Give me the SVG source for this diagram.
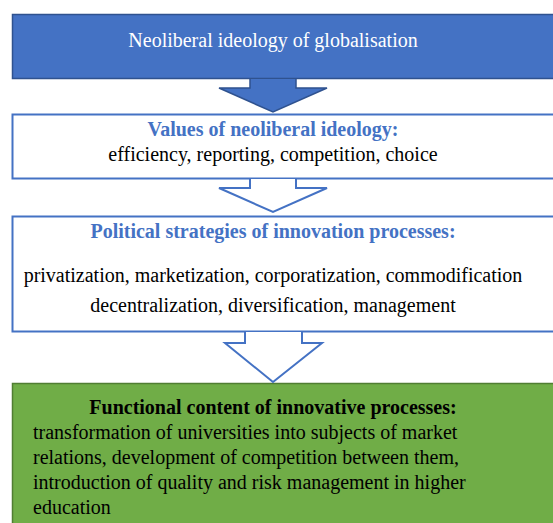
<svg xmlns="http://www.w3.org/2000/svg" width="553" height="523" viewBox="0 0 553 523">
<style>
text{font-family:"Liberation Serif","Times New Roman",serif;font-size:20px;fill:#000}
.c{text-anchor:middle}
.h{font-weight:bold;fill:#4472C4}
.w{fill:#fff}
.b{font-weight:bold}
.outline{fill:#fff;stroke:#4472C4;stroke-width:2}
</style>
<rect width="553" height="523" fill="#fff"/>
<g id="n1">
<rect x="12.5" y="14.5" width="560" height="64" fill="#4472C4" stroke="#2F528F" stroke-width="1.5"/>
<text class="c w" x="273" y="47">Neoliberal ideology of globalisation</text>
</g>
<g id="n2">
<rect class="outline" x="12.5" y="114.5" width="560" height="64"/>
<text class="c h" x="273" y="136">Values of neoliberal ideology:</text>
<text class="c" x="273" y="161">efficiency, reporting, competition, choice</text>
</g>
<g id="n3">
<rect class="outline" x="12.5" y="216.5" width="560" height="115"/>
<text class="c h" x="273" y="238">Political strategies of innovation processes:</text>
<text class="c" x="273" y="282">privatization, marketization, corporatization, commodification</text>
<text class="c" x="273" y="312">decentralization, diversification, management</text>
</g>
<g id="n4">
<rect x="12.5" y="383.5" width="560" height="160" fill="#70AD47" stroke="#507E32" stroke-width="1.5"/>
<text class="c b" x="273" y="414">Functional content of innovative processes:</text>
<text x="33" y="439">transformation of universities into subjects of market</text>
<text x="33" y="464">relations, development of competition between them,</text>
<text x="33" y="489">introduction of quality and risk management in higher</text>
<text x="33" y="514">education</text>
</g>
<g id="connectors">
<path d="M250,79 V88 H219 L273,112 L327,88 H296 V79" fill="#4472C4" stroke="#2F528F" stroke-width="1.5"/>
<path d="M250,179 V188 H219 L273,212 L327,188 H296 V179" fill="#fff" stroke="#4472C4" stroke-width="2"/>
<path d="M245,332 V343 H225 L273,382 L322,343 H302 V332" fill="#fff" stroke="#4472C4" stroke-width="2"/>
</g>
</svg>
